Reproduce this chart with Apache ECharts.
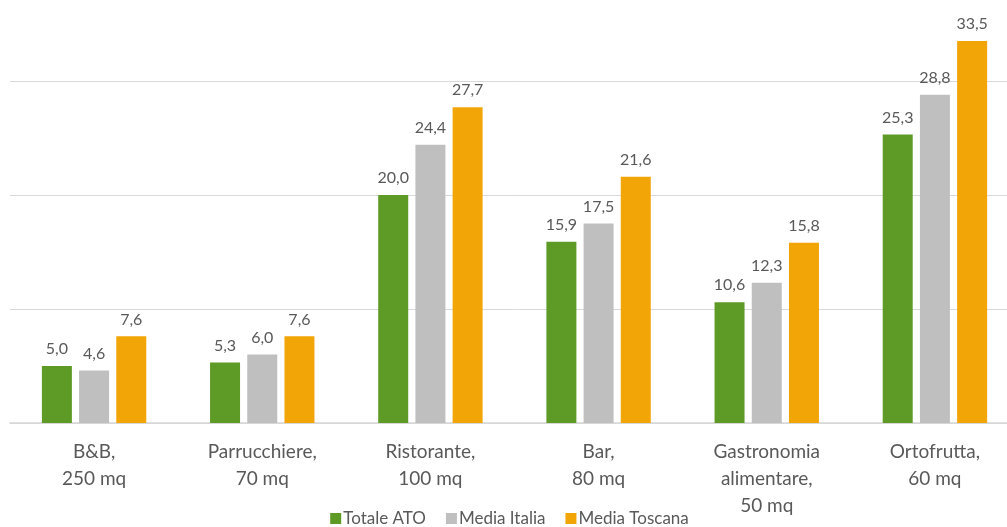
<!DOCTYPE html>
<html>
<head>
<meta charset="utf-8">
<script src="https://cdn.jsdelivr.net/npm/echarts@6/dist/echarts.min.js"></script>
<style>
  html, body { margin: 0; padding: 0; background: #ffffff; overflow: hidden; }
  #wrap { width: 1007px; height: 527px; overflow: hidden; }
  #chart { width: 1019px; height: 527px; }
</style>
</head>
<body>
<div id="wrap"><div id="chart"></div></div>
<script>
// Categorie di attività (superficie di riferimento)
const categories = [
  'B&B,\n250 mq',
  'Parrucchiere,\n70 mq',
  'Ristorante,\n100 mq',
  'Bar,\n80 mq',
  'Gastronomia\nalimentare,\n50 mq',
  'Ortofrutta,\n60 mq'
];

// Valori per serie
const totaleATO    = [5.0, 5.3, 20.0, 15.9, 10.6, 25.3];
const mediaItalia  = [4.6, 6.0, 24.4, 17.5, 12.3, 28.8];
const mediaToscana = [7.6, 7.6, 27.7, 21.6, 15.8, 33.5];

const seriesNames = ['Totale ATO', 'Media Italia', 'Media Toscana'];
const seriesColors = ['#5e9a26', '#bfbfc0', '#f2a507'];

const FONT = 'Lato, "Open Sans", sans-serif';
const TEXT = '#595959';

const fmt = v => v.toFixed(1).replace('.', ',');

function barSeries(name, data, color) {
  return {
    name: name,
    type: 'bar',
    data: data,
    barWidth: 30,
    barGap: '24%',
    itemStyle: { color: color },
    label: {
      show: true,
      position: 'top',
      distance: 9,
      color: TEXT,
      fontFamily: FONT,
      fontSize: 16,
      formatter: p => fmt(p.value)
    }
  };
}

const chart = echarts.init(document.getElementById('chart'), null, { renderer: 'canvas' });
chart.setOption({
  animation: false,
  backgroundColor: '#ffffff',
  textStyle: { fontFamily: FONT, color: TEXT },
  legend: {
    data: seriesNames,
    top: 505,
    left: 'center',
    itemWidth: 11,
    itemHeight: 11,
    itemGap: 20,
    icon: 'rect',
    textStyle: { color: TEXT, fontFamily: FONT, fontSize: 17, padding: [0, 0, 0, -3] }
  },
  grid: {
    left: 10,
    right: 0,
    top: 0,
    bottom: 104,
    containLabel: false
  },
  xAxis: {
    type: 'category',
    data: categories,
    axisTick: { show: false },
    axisLine: { show: true, lineStyle: { color: '#d6d6d6', width: 1.5 } },
    axisLabel: {
      interval: 0,
      margin: 15,
      color: TEXT,
      fontFamily: FONT,
      fontSize: 19,
      lineHeight: 27,
      align: 'center'
    }
  },
  yAxis: {
    type: 'value',
    min: 0,
    max: 37.1,
    interval: 10,
    axisLabel: { show: false },
    axisLine: { show: false },
    axisTick: { show: false },
    splitLine: { show: true, showMaxLine: false, lineStyle: { color: '#d9d9d9', width: 1 } }
  },
  series: [
    barSeries(seriesNames[0], totaleATO, seriesColors[0]),
    barSeries(seriesNames[1], mediaItalia, seriesColors[1]),
    barSeries(seriesNames[2], mediaToscana, seriesColors[2])
  ]
});
</script>
</body>
</html>
